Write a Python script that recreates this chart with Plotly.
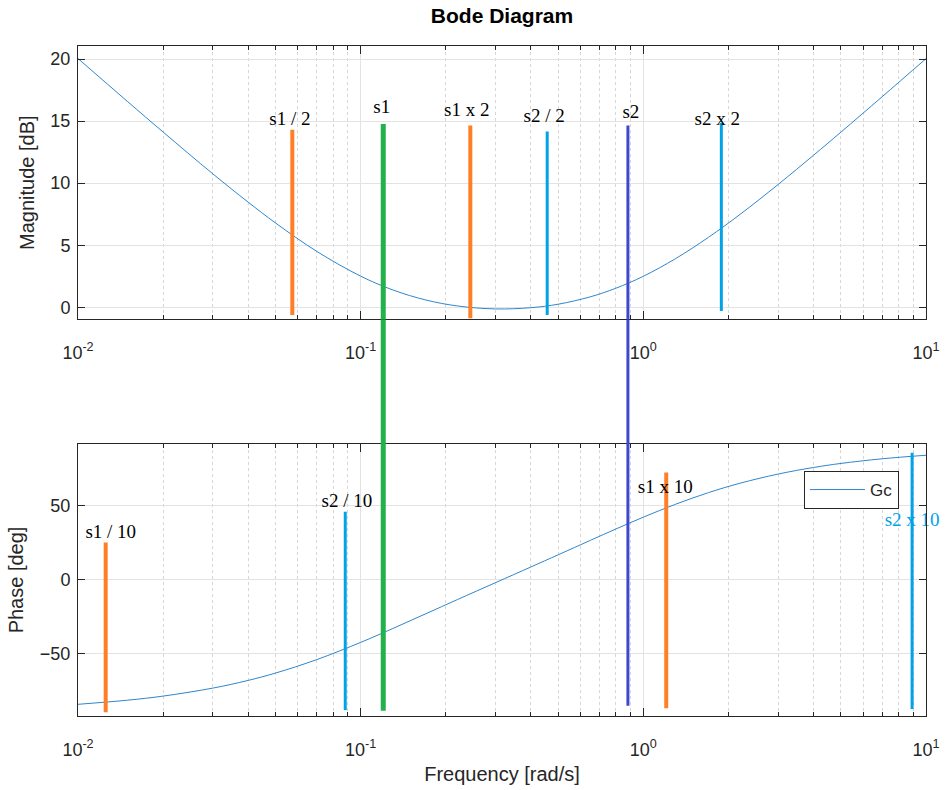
import plotly.graph_objects as go

# ---- Frequency response of Gc ----
freq = [0.01, 0.015, 0.02, 0.03, 0.04, 0.05, 0.07, 0.1, 0.13, 0.17, 0.22, 0.3,
        0.4, 0.5, 0.65, 0.8, 1.0, 1.3, 1.7, 2.2, 3, 4, 5, 7, 10]
mag_db = [20.04, 16.56, 14.12, 10.75, 8.47, 6.79, 4.50, 2.51, 1.40, 0.59, 0.11, -0.13,
          -0.03, 0.25, 0.85, 1.54, 2.50, 3.92, 5.64, 7.49, 9.90, 12.25, 14.11, 16.97, 20.03]
phase_deg = [-84.37, -81.58, -78.82, -73.40, -68.19, -63.21, -54.07, -42.43, -33.00, -23.02,
             -13.41, -1.95, 8.66, 16.93, 26.73, 34.42, 42.41, 51.16, 59.04, 65.43, 71.63,
             76.08, 78.81, 81.97, 84.37]

# ---- x tick labels ----
x_tick_vals = [0.01, 0.1, 1, 10]
x_tick_text = ["10<sup>-2</sup>", "10<sup>-1</sup>", "10<sup>0</sup>", "10<sup>1</sup>"]

# ---- Marker lines in the magnitude panel ----
mag_line_names = ["s1 / 2", "s1 x 2", "s2 / 2", "s2 x 2"]
mag_line_freq = [0.0573, 0.2443, 0.457, 1.888]
mag_line_top = [14.3, 14.65, 14.16, 14.84]
mag_line_bottom = [-0.62, -0.89, -0.62, -0.3]
mag_line_kind = ["s1", "s1", "s2", "s2"]

# ---- Marker lines in the phase panel ----
ph_line_names = ["s1 / 10", "s2 / 10", "s1 x 10", "s2 x 10"]
ph_line_freq = [0.01253, 0.0882, 1.205, 8.93]
ph_line_top = [25.3, 46.1, 72.7, 86.0]
ph_line_bottom = [-89.8, -88.3, -87.1, -87.6]
ph_line_kind = ["s1", "s2", "s1", "s2"]

# ---- Lines spanning both panels (s1, s2) ----
span_names = ["s1", "s2"]
span_freq = [0.1202, 0.882]
span_top_db = [14.76, 14.65]
span_bottom_deg = [-88.7, -85.4]

# ---- Text labels ----
mag_label_text = ["s1 / 2", "s1", "s1 x 2", "s2 / 2", "s2", "s2 x 2"]
mag_label_freq = [0.0562, 0.1187, 0.2373, 0.4457, 0.9037, 1.827]
mag_label_db = [15.05, 16.0, 15.77, 15.35, 15.67, 15.05]
ph_label_text = ["s1 / 10", "s2 / 10", "s1 x 10", "s2 x 10"]
ph_label_freq = [0.01306, 0.0894, 1.196, 8.93]
ph_label_deg = [31.8, 52.8, 61.9, 39.3]
ph_label_color = ["black", "black", "black", "#00a2e8"]

# ---- styling ----
C_CURVE = "#2f86cc"
C_ORANGE = "#ff7f27"
C_LBLUE = "#00a2e8"
C_GREEN = "#22b14c"
C_INDIGO = "#3f48cc"
kind_color = {"s1": C_ORANGE, "s2": C_LBLUE}
kind_width = {"s1": 4, "s2": 3}
span_color = [C_GREEN, C_INDIGO]
span_width = [5, 3]

MAG_RANGE = [-0.97, 21.05]
PH_RANGE = [-92.3, 92.0]
DOM_TOP = [0.592, 1.0]
DOM_BOT = [0.0, 0.406]

SANS = "Liberation Sans, Arial, Helvetica, sans-serif"
SERIF = "Liberation Serif, Times New Roman, serif"
AX = "#262626"

fig = go.Figure()

# Bode curves
fig.add_trace(go.Scatter(x=freq, y=mag_db, mode="lines", name="Gc",
                         line=dict(color=C_CURVE, width=1, shape="spline"),
                         xaxis="x", yaxis="y", showlegend=True, hoverinfo="skip"))
fig.add_trace(go.Scatter(x=freq, y=phase_deg, mode="lines", name="Gc",
                         line=dict(color=C_CURVE, width=1, shape="spline"),
                         xaxis="x2", yaxis="y2", showlegend=False, hoverinfo="skip"))

# Magnitude panel vertical lines
for f, t, b, k in zip(mag_line_freq, mag_line_top, mag_line_bottom, mag_line_kind):
    fig.add_trace(go.Scatter(x=[f, f], y=[b, t], mode="lines",
                             line=dict(color=kind_color[k], width=kind_width[k]),
                             xaxis="x", yaxis="y", showlegend=False, hoverinfo="skip"))

# Phase panel vertical lines
for f, t, b, k in zip(ph_line_freq, ph_line_top, ph_line_bottom, ph_line_kind):
    fig.add_trace(go.Scatter(x=[f, f], y=[b, t], mode="lines",
                             line=dict(color=kind_color[k], width=kind_width[k]),
                             xaxis="x2", yaxis="y2", showlegend=False, hoverinfo="skip"))

# Spanning lines: top part, gap part, bottom part
for f, t, b, c, w in zip(span_freq, span_top_db, span_bottom_deg, span_color, span_width):
    fig.add_trace(go.Scatter(x=[f, f], y=[MAG_RANGE[0], t], mode="lines",
                             line=dict(color=c, width=w),
                             xaxis="x", yaxis="y", showlegend=False, hoverinfo="skip"))
    fig.add_trace(go.Scatter(x=[f, f], y=[b, PH_RANGE[1]], mode="lines",
                             line=dict(color=c, width=w),
                             xaxis="x2", yaxis="y2", showlegend=False, hoverinfo="skip"))
    fig.add_shape(type="line", xref="x", yref="paper", x0=f, x1=f,
                  y0=DOM_BOT[1], y1=DOM_TOP[0], line=dict(color=c, width=w))

# Labels
fig.add_trace(go.Scatter(x=mag_label_freq, y=mag_label_db, mode="text", text=mag_label_text,
                         textposition="middle center", cliponaxis=False,
                         textfont=dict(family=SERIF, size=19, color="black"),
                         xaxis="x", yaxis="y", showlegend=False, hoverinfo="skip"))
fig.add_trace(go.Scatter(x=ph_label_freq, y=ph_label_deg, mode="text", text=ph_label_text,
                         textposition="middle center", cliponaxis=False,
                         textfont=dict(family=SERIF, size=19, color=ph_label_color),
                         xaxis="x2", yaxis="y2", showlegend=False, hoverinfo="skip"))

xcommon = dict(type="log", range=[-2, 1], tickmode="array",
               tickvals=x_tick_vals, ticktext=x_tick_text, automargin=False,
               showline=True, linecolor=AX, linewidth=1, mirror="ticks",
               ticks="inside", ticklen=8, tickcolor=AX, tickwidth=1,
               showgrid=True, gridcolor="#e3e3e3", gridwidth=1,
               minor=dict(dtick="D1", ticks="inside", ticklen=4, tickcolor=AX,
                          showgrid=True, gridcolor="#d6d6d6", griddash="dot", gridwidth=1),
               tickfont=dict(family=SANS, size=18, color=AX),
               ticklabelstandoff=17, zeroline=False)
ycommon = dict(showline=True, linecolor=AX, linewidth=1, mirror="ticks", automargin=False,
               ticks="inside", ticklen=7, tickcolor=AX, tickwidth=1,
               showgrid=True, gridcolor="#e3e3e3", gridwidth=1, zeroline=False,
               tickfont=dict(family=SANS, size=18, color=AX), ticklabelstandoff=3)

fig.update_layout(
    width=946, height=790,
    margin=dict(l=78, r=20, t=46, b=74, autoexpand=False),
    plot_bgcolor="white", paper_bgcolor="white",
    font=dict(family=SANS, color=AX),
    title=dict(text="<b>Bode Diagram</b>", x=0.5, xref="paper", xanchor="center",
               y=1 - 16 / 790, yref="container", yanchor="middle",
               font=dict(family=SANS, size=21, color="black")),
    xaxis=dict(domain=[0, 1], anchor="y", **xcommon),
    yaxis=dict(domain=DOM_TOP, anchor="x", range=MAG_RANGE, dtick=5,
               title=dict(text="Magnitude [dB]", font=dict(family=SANS, size=20, color=AX), standoff=10),
               **ycommon),
    xaxis2=dict(domain=[0, 1], anchor="y2",
                title=dict(text="Frequency [rad/s]", font=dict(family=SANS, size=20, color=AX), standoff=8),
                **xcommon),
    yaxis2=dict(domain=DOM_BOT, anchor="x2", range=PH_RANGE, dtick=50,
                title=dict(text="Phase [deg]", font=dict(family=SANS, size=20, color=AX), standoff=10),
                **ycommon),
    legend=dict(x=(899 - 78) / 848, y=(716 - 471) / 670, xanchor="right", yanchor="top",
                bordercolor=AX, borderwidth=1, bgcolor="white", itemwidth=55,
                font=dict(family=SANS, size=17, color=AX)),
    showlegend=True,
)

fig.write_html("out.html")
